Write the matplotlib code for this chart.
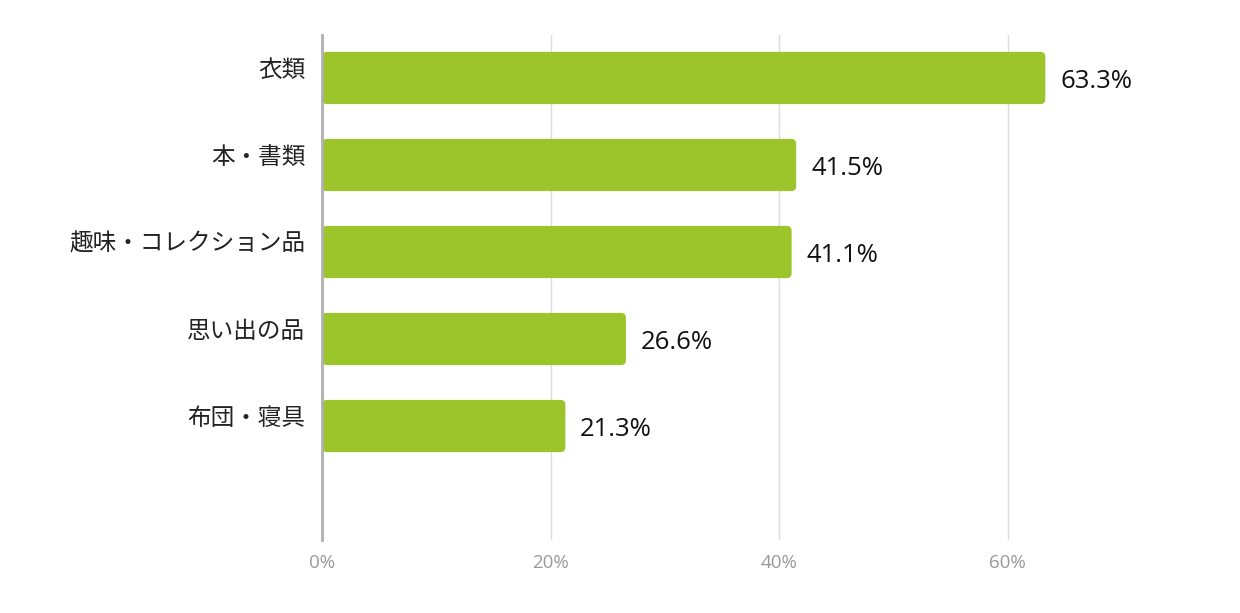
import matplotlib.pyplot as plt
from matplotlib.patches import FancyBboxPatch

# data
categories = ['衣類', '本・書類', '趣味・コレクション品', '思い出の品', '布団・寝具']
values = [63.3, 41.5, 41.1, 26.6, 21.3]
ticks = [0, 20, 40, 60]
tick_labels = ['0%', '20%', '40%', '60%']

green = '#9bc52b'

fig = plt.figure(figsize=(12.4, 6.13), dpi=100)
fig.patch.set_facecolor('white')
ax = fig.add_axes([322 / 1240, 1 - 540 / 613, (1179 - 322) / 1240, (540 - 35) / 613])

ax.set_xlim(0, 75)
ax.set_ylim(5.31, -0.494)

bar_h = 0.6
# pixel per unit, used to keep the corner rounding round
px_x = 228.5 / 20
px_y = 87.0
r = 5 / px_x
for i, v in enumerate(values):
    p = FancyBboxPatch((0, i - bar_h / 2), v, bar_h,
                       boxstyle='round,pad=0,rounding_size=%f' % r,
                       mutation_aspect=px_x / px_y,
                       facecolor=green, edgecolor='none', zorder=3)
    ax.add_patch(p)
    ax.text(v + 1.3, i + 0.04, '%.1f%%' % v, va='center', ha='left',
            fontsize=18.5, family=['Open Sans', 'DejaVu Sans'], color='#111111')

# category labels sit a little above the bar centre
for i, c in enumerate(categories):
    ax.annotate(c, xy=(0, i), xycoords=('axes fraction', 'data'),
                xytext=(-12, 5.5), textcoords='offset points',
                ha='right', va='center', fontsize=17,
                family=['Noto Sans CJK JP', 'DejaVu Sans'], color='#222222')

ax.set_yticks([])

ax.set_xticks(ticks)
ax.set_xticklabels(tick_labels, family=['Open Sans', 'DejaVu Sans'],
                   fontsize=13.5, color='#999999')
ax.tick_params(axis='x', length=0, pad=10)

ax.grid(axis='x', color='#dddddd', linewidth=1, zorder=0)
ax.set_axisbelow(True)
for s in ['top', 'right', 'bottom']:
    ax.spines[s].set_visible(False)
ax.spines['left'].set_color('#b0b0b0')
ax.spines['left'].set_linewidth(2)
ax.spines['left'].set_zorder(4)

fig.savefig('out.png', dpi=100)
